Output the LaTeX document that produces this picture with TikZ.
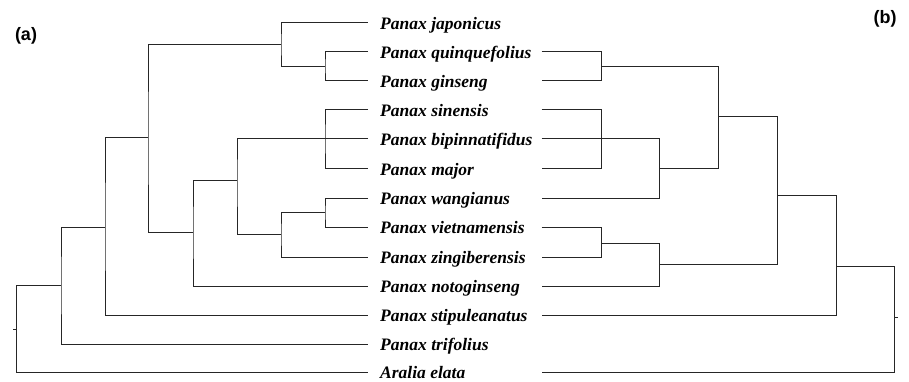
\documentclass[tikz,border=0pt]{standalone}
\usepackage{fontspec}
\setmainfont{Liberation Serif}
\newfontfamily\panelfont{Liberation Sans}
\begin{document}
\begin{tikzpicture}[x=1pt,y=-1pt,
  branch/.style={draw=black!85,line width=1pt},
  taxon/.style={anchor=base west,inner sep=0pt,font=\fontsize{17.5}{20}\selectfont\bfseries\itshape},
  panel/.style={inner sep=0pt,font=\fontsize{18}{20}\selectfont\panelfont\bfseries}]
\useasboundingbox (0,0) rectangle (909,382);
% panel labels
\node[panel] (pa) at (26,36) {(a)};
\node[panel] (pb) at (885,19) {(b)};
% taxa
\foreach \i/\y/\t in {1/23/Panax japonicus,2/52/Panax quinquefolius,3/81/Panax ginseng,
  4/110/Panax sinensis,5/139/Panax bipinnatifidus,6/169/Panax major,7/198/Panax wangianus,
  8/227/Panax vietnamensis,9/257/Panax zingiberensis,10/286/Panax notoginseng,
  11/315/Panax stipuleanatus,12/344/Panax trifolius,13/372/Aralia elata}{
  \node[taxon] (t\i) at (380,\y+6.5) {\t};
  \coordinate (L\i) at (368,\y);
  \coordinate (R\i) at (541.7,\y);
}
% left tree internal nodes
\coordinate (qg) at (325,66.5);
\coordinate (jq) at (281,45);
\coordinate (sbm) at (325,139);
\coordinate (wv) at (325,212.5);
\coordinate (wvz) at (281,234.5);
\coordinate (sw) at (237,180);
\coordinate (swn) at (193,232);
\coordinate (big) at (148,138);
\coordinate (s2) at (105,227);
\coordinate (tr) at (61,285);
\coordinate (root) at (16.7,329);
\coordinate (rootTick) at (13,329);
\draw[branch] (L2) -| (qg) |- (L3);
\draw[branch] (qg) -| (jq) |- (L1);
\draw[branch] (L4) -| (sbm) |- (L6);
\draw[branch] (L5) -- (sbm);
\draw[branch] (L7) -| (wv) |- (L8);
\draw[branch] (wv) -| (wvz) |- (L9);
\draw[branch] (sbm) -| (sw) |- (wvz);
\draw[branch] (sw) -| (swn) |- (L10);
\draw[branch] (jq) -| (big) |- (swn);
\draw[branch] (big) -| (s2) |- (L11);
\draw[branch] (s2) -| (tr) |- (L12);
\draw[branch] (tr) -| (root) |- (L13);
\draw[branch] (root) -- (rootTick);
% right tree internal nodes
\coordinate (rqg) at (601,66.5);
\coordinate (rsm) at (601,139);
\coordinate (rbw) at (659,168.5);
\coordinate (rA) at (718,117);
\coordinate (rvz) at (601,243);
\coordinate (rvzn) at (659,264.5);
\coordinate (rB) at (777,195.7);
\coordinate (rC) at (836,266);
\coordinate (rroot) at (894,317);
\coordinate (rtick) at (898,317);
\draw[branch] (R2) -| (rqg) |- (R3);
\draw[branch] (R4) -| (rsm) |- (R6);
\draw[branch] (R5) -| (rbw) |- (R7);
\draw[branch] (rqg) -| (rA) |- (rbw);
\draw[branch] (R8) -| (rvz) |- (R9);
\draw[branch] (rvz) -| (rvzn) |- (R10);
\draw[branch] (rA) -| (rB) |- (rvzn);
\draw[branch] (rB) -| (rC) |- (R11);
\draw[branch] (rC) -| (rroot) |- (R13);
\draw[branch] (rroot) -- (rtick);
\end{tikzpicture}
\end{document}
